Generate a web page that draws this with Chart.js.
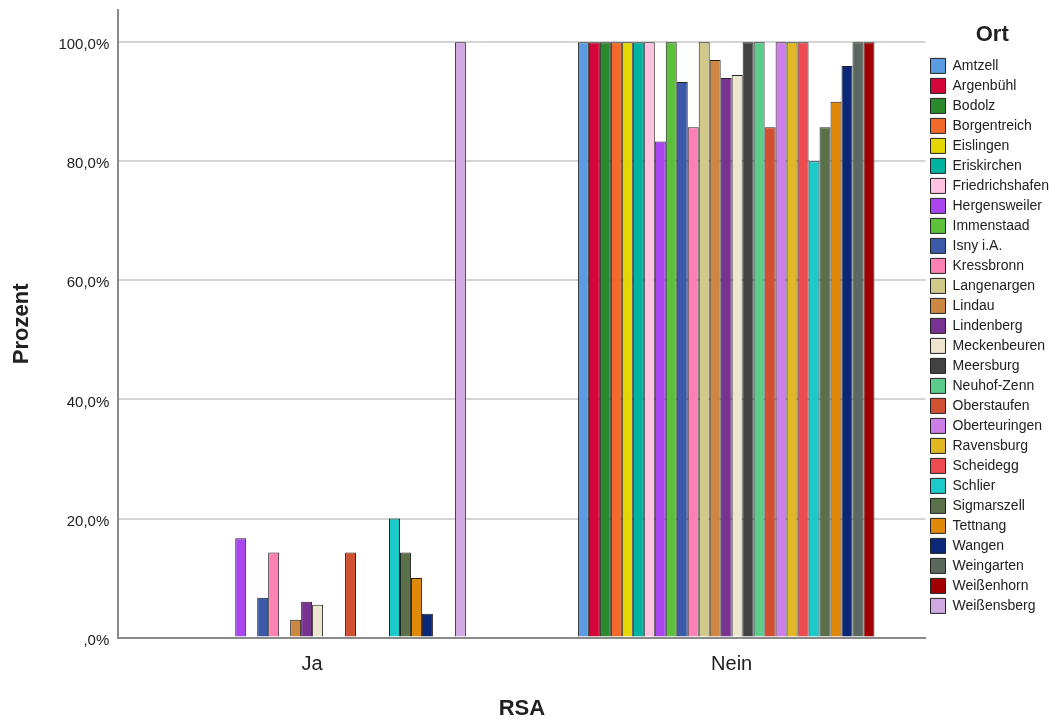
<!DOCTYPE html>
<html lang="de">
<head>
    <meta charset="UTF-8">
    <title>RSA nach Ort</title>
  <script src="https://cdn.jsdelivr.net/npm/chart.js"></script>
  <style>
    body { margin: 0; background: #fff; }
    #wrap { width: 1063px; height: 724px; }
  </style>
</head>
<body>

<div id="wrap">
  <canvas id="rsaChart"></canvas>
</div>

<script>
  // Kategorien (x-Achse) und Orte (Legende)
  const categories = ['Ja', 'Nein'];
  const orte = [
    'Amtzell', 'Argenbühl', 'Bodolz', 'Borgentreich', 'Eislingen', 'Eriskirchen',
    'Friedrichshafen', 'Hergensweiler', 'Immenstaad', 'Isny i.A.', 'Kressbronn',
    'Langenargen', 'Lindau', 'Lindenberg', 'Meckenbeuren', 'Meersburg', 'Neuhof-Zenn',
    'Oberstaufen', 'Oberteuringen', 'Ravensburg', 'Scheidegg', 'Schlier', 'Sigmarszell',
    'Tettnang', 'Wangen', 'Weingarten', 'Weißenhorn', 'Weißensberg'
  ];

  // Prozent je Ort
  const jaValues = [
    0, 0, 0, 0, 0, 0,
    0, 16.7, 0, 6.7, 14.3,
    0, 3.0, 6.0, 5.5, 0, 0,
    14.3, 0, 0, 0, 20.0, 14.3,
    10.0, 4.0, 0, 0, 100
  ];
  const neinValues = [
    100, 100, 100, 100, 100, 100,
    100, 83.3, 100, 93.3, 85.7,
    100, 97.0, 94.0, 94.5, 100, 100,
    85.7, 100, 100, 100, 80.0, 85.7,
    90.0, 96.0, 100, 100, 0
  ];

  const yTicks = [0, 20, 40, 60, 80, 100];

  const colors = [
    '#5b9be2', '#d40538', '#2b8a2e', '#f2692c', '#e6d600', '#00b2a0',
    '#ffc2e0', '#a946f0', '#5cc03a', '#3b5ba8', '#ff80b2',
    '#d1c98a', '#cc8842', '#783292', '#eee5cf', '#424242', '#5ccb8b',
    '#d15032', '#cc7fe6', '#e2b822', '#ee4b50', '#1ccaca', '#5a7048',
    '#e08808', '#0b2878', '#5a6860', '#a00000', '#d1a9e2'
  ];

  const datasets = orte.map(function (ort, i) {
    return {
      label: ort,
      data: [
        { x: 0, y: jaValues[i] },
        { x: 1, y: neinValues[i] }
      ],
      backgroundColor: colors[i],
      borderColor: '#222222',
      borderWidth: 1,
      borderSkipped: 'start',
      minBarLength: 1
    };
  });

  const textColor = '#212121';

  new Chart(document.getElementById('rsaChart'), {
    type: 'bar',
    data: { datasets: datasets },
    options: {
      responsive: true,
      maintainAspectRatio: false,
      animation: false,
      categoryPercentage: 0.733,
      barPercentage: 1.0,
      layout: { padding: { left: 4, right: 4, top: 10, bottom: 0 } },
      plugins: {
        tooltip: { enabled: false },
        legend: {
          position: 'right',
          align: 'start',
          title: {
            display: true,
            text: 'Ort',
            color: textColor,
            font: { family: 'Liberation Sans, Arial, sans-serif', size: 22, weight: 'bold' },
            padding: { top: 14, bottom: 3 }
          },
          labels: {
            color: textColor,
            boxWidth: 15,
            boxHeight: 15,
            padding: 5,
            font: { family: 'Liberation Sans, Arial, sans-serif', size: 14 }
          }
        }
      },
      scales: {
        x: {
          type: 'linear',
          offset: false,
          min: -0.462,
          max: 1.462,
          afterBuildTicks: function (scale) {
            scale.ticks = categories.map(function (c, i) { return { value: i }; });
          },
          grid: { display: false, drawTicks: false },
          border: { display: true, color: '#8a8a8a', width: 2 },
          ticks: {
            padding: 15,
            color: textColor,
            font: { family: 'Liberation Sans, Arial, sans-serif', size: 20 },
            callback: function (v) { return categories[v]; }
          },
          title: {
            display: true,
            text: 'RSA',
            color: textColor,
            font: { family: 'Liberation Sans, Arial, sans-serif', size: 22, weight: 'bold' },
            padding: { top: 4, bottom: 2 }
          }
        },
        y: {
          min: 0,
          max: 105.4,
          afterBuildTicks: function (scale) {
            scale.ticks = yTicks.map(function (v) { return { value: v }; });
          },
          afterFit: function (scale) {
            scale.paddingTop = 0;
            scale.paddingBottom = 0;
          },
          grid: { color: '#d4d4d4', lineWidth: 2, drawTicks: false },
          border: { display: true, color: '#8a8a8a', width: 2 },
          ticks: {
            padding: 9,
            labelOffset: 3,
            color: textColor,
            font: { family: 'Liberation Sans, Arial, sans-serif', size: 15 },
            callback: function (v) {
              if (v === 0) return ',0%';
              return v.toFixed(1).replace('.', ',') + '%';
            }
          },
          title: {
            display: true,
            text: 'Prozent',
            color: textColor,
            font: { family: 'Liberation Sans, Arial, sans-serif', size: 22, weight: 'bold' },
            padding: { top: 5, bottom: 14 }
          }
        }
      }
    }
  });
</script>

</body>
</html>
